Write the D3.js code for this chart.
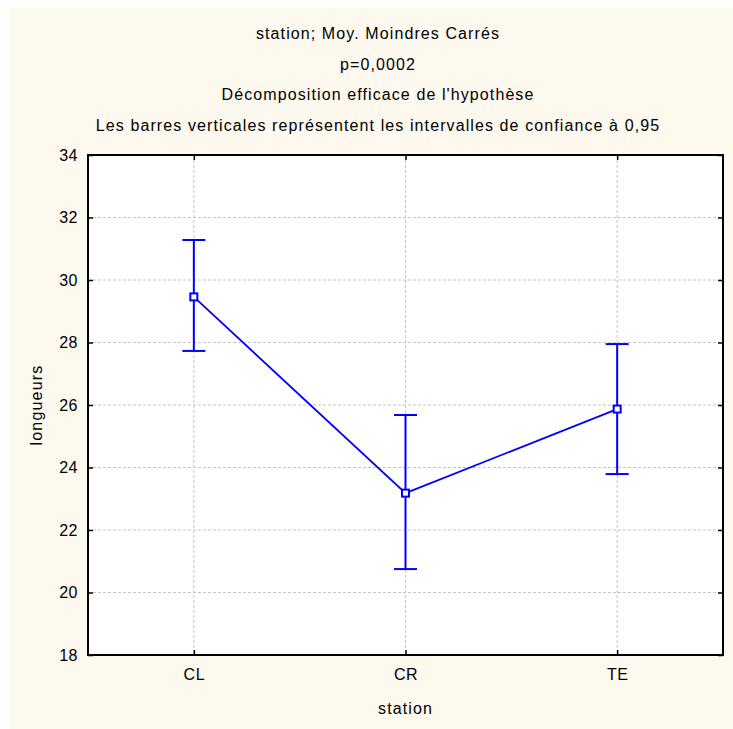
<!DOCTYPE html>
<html>
<head>
<meta charset="utf-8">
<title>station; Moy. Moindres Carrés</title>
<script src="https://cdn.jsdelivr.net/npm/d3@7"></script>
<style>
  body { margin: 0; background: #fff; }
  text { font-family: "Liberation Sans", Arial, sans-serif; fill: #000; }
</style>
</head>
<body>
<div id="chart"></div>
<script>
// moyennes et intervalles de confiance
var stations = ["CL", "CR", "TE"];
var moyennes = [29.46, 23.18, 25.87];
var icBas = [27.73, 20.75, 23.79];
var icHaut = [31.28, 25.68, 27.95];
var yTicks = [18, 20, 22, 24, 26, 28, 30, 32, 34];
var titres = [
  "station; Moy. Moindres Carrés",
  "p=0,0002",
  "Décomposition efficace de l'hypothèse",
  "Les barres verticales représentent les intervalles de confiance à 0,95"
];

var W = 733, H = 729;
var margin = {top: 155, right: 10, bottom: 74, left: 88};

var svg = d3.select("#chart").append("svg")
  .attr("width", W).attr("height", H);

// fond crème
svg.append("rect")
  .attr("x", 10).attr("y", 8)
  .attr("width", W - 10).attr("height", H - 8)
  .attr("fill", "#fef9ef");

var x = d3.scalePoint()
  .domain(stations)
  .range([margin.left, W - margin.right])
  .padding(0.5);

var y = d3.scaleLinear()
  .domain([18, 34])
  .range([H - margin.bottom, margin.top]);

// zone du graphique
svg.append("rect")
  .attr("x", margin.left).attr("y", margin.top)
  .attr("width", W - margin.right - margin.left)
  .attr("height", y(18) - y(34))
  .attr("fill", "#fff");

// grille
svg.append("g").selectAll("line").data(yTicks.slice(1, -1)).join("line")
  .attr("x1", margin.left).attr("x2", W - margin.right)
  .attr("y1", d => y(d)).attr("y2", d => y(d))
  .attr("stroke", "#c4c4c4").attr("stroke-dasharray", "3,2");
svg.append("g").selectAll("line").data(stations).join("line")
  .attr("x1", d => x(d)).attr("x2", d => x(d))
  .attr("y1", y(34)).attr("y2", y(18))
  .attr("stroke", "#c4c4c4").attr("stroke-dasharray", "3,2");

// axes (graduations vers l'intérieur)
svg.append("g").attr("transform", "translate(" + margin.left + ",0)")
  .call(d3.axisLeft(y).tickValues(yTicks).tickSize(-5).tickPadding(10));
svg.append("g").attr("transform", "translate(0," + y(18) + ")")
  .call(d3.axisBottom(x).tickSize(-5).tickPadding(14));
svg.append("g").attr("transform", "translate(0," + y(34) + ")")
  .call(d3.axisTop(x).tickSize(-5).tickFormat(""));
svg.append("g").attr("transform", "translate(" + (W - margin.right) + ",0)")
  .call(d3.axisRight(y).tickValues(yTicks).tickSize(-5).tickFormat(""));

svg.selectAll(".domain").remove();
svg.selectAll(".tick line").attr("stroke", "#000").attr("stroke-width", 1.5);
svg.selectAll(".tick text").attr("font-size", 16)
  .attr("font-family", "Liberation Sans, Arial, sans-serif")
  .attr("letter-spacing", 0.5);

// cadre
svg.append("rect")
  .attr("x", margin.left).attr("y", y(34))
  .attr("width", W - margin.right - margin.left)
  .attr("height", y(18) - y(34))
  .attr("fill", "none").attr("stroke", "#000").attr("stroke-width", 2);

// barres d'erreur
var cap = 11.5;
var blue = "#0000ff";
var eb = svg.append("g");
stations.forEach(function(s, i){
  eb.append("line")
    .attr("x1", x(s)).attr("x2", x(s))
    .attr("y1", y(icBas[i])).attr("y2", y(icHaut[i]))
    .attr("stroke", blue).attr("stroke-width", 2);
  [icBas[i], icHaut[i]].forEach(function(v){
    eb.append("line")
      .attr("x1", x(s) - cap).attr("x2", x(s) + cap)
      .attr("y1", y(v)).attr("y2", y(v))
      .attr("stroke", blue).attr("stroke-width", 2);
  });
});

// ligne des moyennes
var line = d3.line()
  .x((d, i) => x(stations[i]))
  .y(d => y(d));
svg.append("path")
  .attr("d", line(moyennes))
  .attr("fill", "none").attr("stroke", blue).attr("stroke-width", 1.8);

svg.append("g").selectAll("rect").data(moyennes).join("rect")
  .attr("x", (d, i) => x(stations[i]) - 3.5)
  .attr("y", d => y(d) - 3.5)
  .attr("width", 7).attr("height", 7)
  .attr("fill", "#fff").attr("stroke", blue).attr("stroke-width", 2);

// titres
svg.append("g").selectAll("text").data(titres).join("text")
  .attr("x", 378)
  .attr("y", (d, i) => 39 + i * 30.5)
  .attr("text-anchor", "middle")
  .attr("font-size", 16)
  .attr("letter-spacing", 1.1)
  .text(d => d);

svg.append("text")
  .attr("x", (margin.left + W - margin.right) / 2)
  .attr("y", 714)
  .attr("text-anchor", "middle")
  .attr("font-size", 16)
  .attr("letter-spacing", 1.1)
  .text("station");

svg.append("text")
  .attr("transform", "translate(42," + ((y(18) + y(34)) / 2) + ") rotate(-90)")
  .attr("text-anchor", "middle")
  .attr("font-size", 16)
  .attr("letter-spacing", 1.2)
  .text("longueurs");
</script>
</body>
</html>
